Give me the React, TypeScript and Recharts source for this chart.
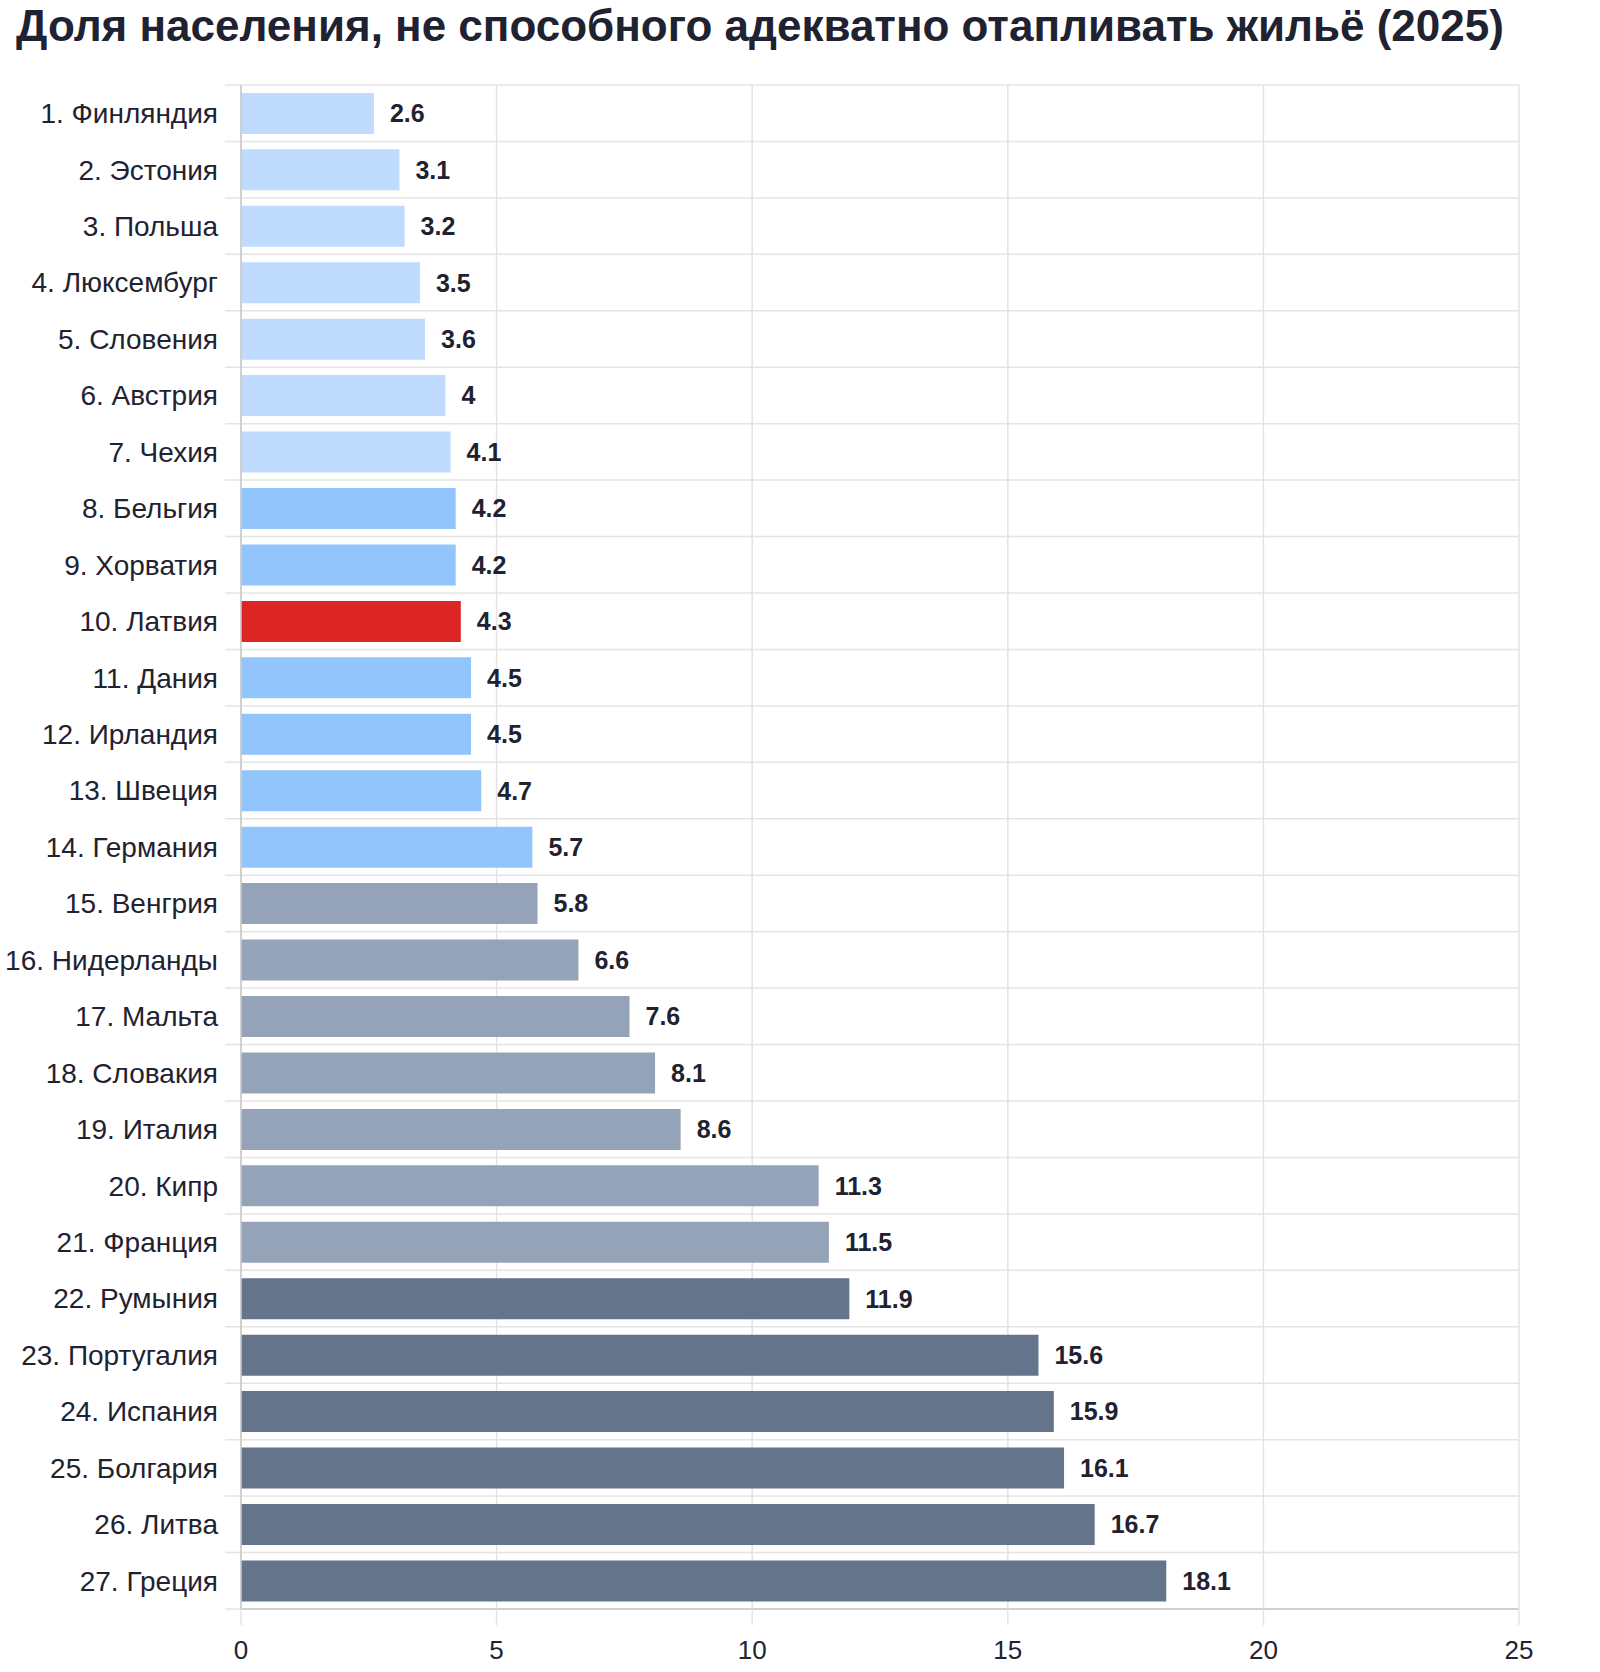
import { BarChart, Bar, Cell, XAxis, YAxis, CartesianGrid, LabelList } from "recharts";

// ─── Data ────────────────────────────────────────────────────────────────────
const countries = [
  "Финляндия", "Эстония", "Польша", "Люксембург", "Словения", "Австрия", "Чехия",
  "Бельгия", "Хорватия", "Латвия", "Дания", "Ирландия", "Швеция", "Германия",
  "Венгрия", "Нидерланды", "Мальта", "Словакия", "Италия", "Кипр", "Франция",
  "Румыния", "Португалия", "Испания", "Болгария", "Литва", "Греция",
];
const shares = [
  2.6, 3.1, 3.2, 3.5, 3.6, 4, 4.1,
  4.2, 4.2, 4.3, 4.5, 4.5, 4.7, 5.7,
  5.8, 6.6, 7.6, 8.1, 8.6, 11.3, 11.5,
  11.9, 15.6, 15.9, 16.1, 16.7, 18.1,
];
const xTicks = [0, 5, 10, 15, 20, 25];
const highlight = "Латвия";

const TITLE = "Доля населения, не способного адекватно отапливать жильё (2025)";

// ─── Palette ─────────────────────────────────────────────────────────────────
const C_TEXT = "#1f2230";
const C_GRID = "#e4e4e4";
const C_AXIS = "#c8c8c8";
const C_RED = "#dc2626";
const GROUP_COLORS = ["#bfdbfe", "#93c5fd", "#94a3b8", "#64748b"];
const FONT = "'Liberation Sans', Arial, sans-serif";

const rows = countries.map((c, i) => ({ name: `${i + 1}. ${c}`, country: c, value: shares[i] }));

function barColor(i: number) {
  if (countries[i] === highlight) return C_RED;
  return GROUP_COLORS[Math.min(3, Math.floor(i / 7))];
}

// grid line that also pokes out a little to the left of the y axis
function hLine(props: any) {
  return (
    <line
      key={props.key ?? `h-${props.y1}`}
      x1={props.x1 - 16}
      x2={props.x2}
      y1={props.y1}
      y2={props.y2}
      stroke={C_GRID}
      strokeWidth={1.5}
    />
  );
}

export default function App() {
  const W = 1600;
  const H = 1672;
  return (
    <div style={{ position: "relative", width: W, height: H, background: "#fff", fontFamily: FONT }}>
      <style>{`body{margin:0}`}</style>
      <div
        style={{
          position: "absolute",
          left: 16,
          top: 4,
          fontSize: 44,
          lineHeight: 1,
          fontWeight: 700,
          color: C_TEXT,
          whiteSpace: "nowrap",
        }}
      >
        {TITLE}
      </div>
      <div style={{ position: "absolute", left: 0, top: 0 }}>
        <BarChart
          width={W}
          height={H}
          data={rows}
          layout="vertical"
          margin={{ top: 85, right: 81, bottom: 13, left: 0 }}
          barCategoryGap="14%"
        >
          <CartesianGrid
            stroke={C_GRID}
            strokeWidth={1.5}
            horizontal={hLine}
            horizontalCoordinatesGenerator={({ offset }: any) =>
              Array.from({ length: countries.length + 1 }, (_, i) => offset.top + (i * offset.height) / countries.length)
            }
          />
          <XAxis
            type="number"
            domain={[0, 25]}
            ticks={xTicks}
            height={50}
            axisLine={{ stroke: C_AXIS, strokeWidth: 1.5 }}
            tickLine={{ stroke: C_GRID, strokeWidth: 1.5 }}
            tickSize={16}
            tickMargin={16}
            tick={{ fill: C_TEXT, fontSize: 26, fontFamily: FONT }}
          />
          <YAxis
            type="category"
            dataKey="name"
            width={241}
            interval={0}
            axisLine={{ stroke: C_AXIS, strokeWidth: 1.5 }}
            tickLine={false}
            tickSize={0}
            tickMargin={23}
            tick={{ fill: C_TEXT, fontSize: 28, fontFamily: FONT }}
          />
          <Bar dataKey="value" isAnimationActive={false}>
            {rows.map((r, i) => (
              <Cell key={r.country} fill={barColor(i)} />
            ))}
            <LabelList
              dataKey="value"
              position="right"
              offset={16}
              fill={C_TEXT}
              fontSize={25}
              fontWeight={700}
              fontFamily={FONT}
            />
          </Bar>
        </BarChart>
      </div>
    </div>
  );
}
